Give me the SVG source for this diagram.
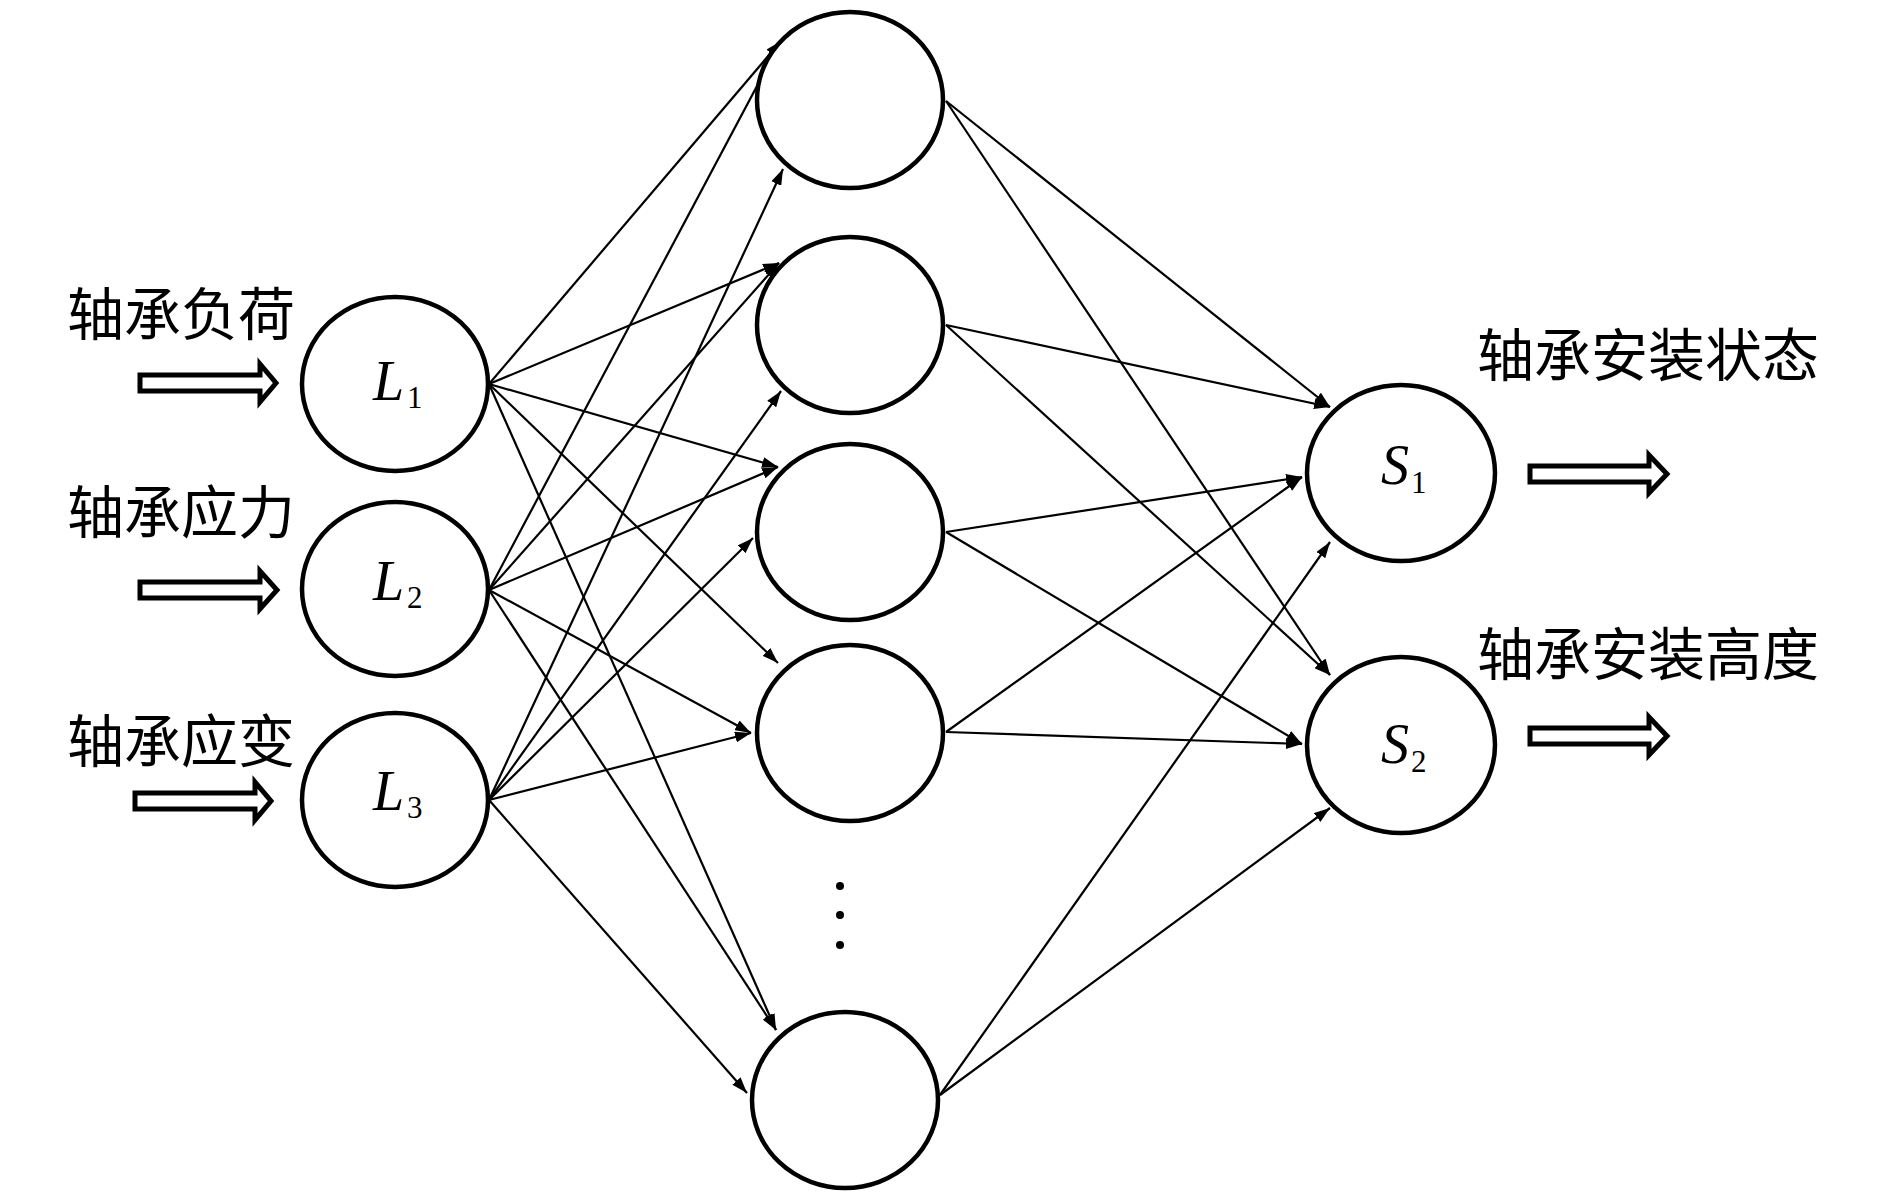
<svg xmlns="http://www.w3.org/2000/svg" width="1890" height="1200" viewBox="0 0 1890 1200">
<defs>
<style>
.node{fill:#fff;stroke:#000;stroke-width:4.5}
.edge{stroke:#000;stroke-width:2.2;fill:none;marker-end:url(#ah)}
.big{fill:#fff;stroke:#000;stroke-width:5;stroke-linejoin:miter}
.cjk{font-family:"Noto Sans CJK SC","Noto Sans CJK TC",sans-serif;font-size:57px;fill:#000}
.var{font-family:"Liberation Serif","Times New Roman",serif;font-style:italic;font-size:56px;fill:#000}
.sub{font-family:"Liberation Serif","Times New Roman",serif;font-style:normal;font-size:31px}
</style>
<marker id="ah" markerUnits="userSpaceOnUse" markerWidth="16" markerHeight="11" refX="16" refY="5.5" orient="auto">
<path d="M0,0 L16,5.5 L0,11 z" fill="#000"/>
</marker>
</defs>
<rect width="1890" height="1200" fill="#fff"/>

<g id="connectors">
<line class="edge" x1="489" y1="384" x2="781" y2="41"/>
<line class="edge" x1="489" y1="590" x2="781" y2="41"/>
<line class="edge" x1="489" y1="800" x2="783" y2="169"/>
<line class="edge" x1="489" y1="384" x2="779" y2="263"/>
<line class="edge" x1="489" y1="590" x2="779" y2="263"/>
<line class="edge" x1="489" y1="800" x2="781" y2="391"/>
<line class="edge" x1="489" y1="384" x2="778" y2="467"/>
<line class="edge" x1="489" y1="590" x2="778" y2="467"/>
<line class="edge" x1="489" y1="800" x2="753" y2="538"/>
<line class="edge" x1="489" y1="384" x2="778" y2="663"/>
<line class="edge" x1="489" y1="590" x2="751" y2="733"/>
<line class="edge" x1="489" y1="800" x2="751" y2="733"/>
<line class="edge" x1="489" y1="384" x2="776" y2="1030"/>
<line class="edge" x1="489" y1="590" x2="776" y2="1030"/>
<line class="edge" x1="489" y1="800" x2="747" y2="1093"/>

<line class="edge" x1="946" y1="101" x2="1330" y2="407"/>
<line class="edge" x1="946" y1="325" x2="1330" y2="407"/>
<line class="edge" x1="946" y1="532" x2="1302" y2="477"/>
<line class="edge" x1="946" y1="732" x2="1302" y2="477"/>
<line class="edge" x1="940" y1="1095" x2="1330" y2="542"/>
<line class="edge" x1="946" y1="101" x2="1330" y2="675"/>
<line class="edge" x1="946" y1="325" x2="1330" y2="675"/>
<line class="edge" x1="946" y1="532" x2="1302" y2="744"/>
<line class="edge" x1="946" y1="732" x2="1302" y2="744"/>
<line class="edge" x1="940" y1="1095" x2="1330" y2="808"/>
</g>

<g id="input-arrows">
<polygon class="big" points="140,375 260,375 260,364 276,383 260,402 260,391 140,391"/>
<polygon class="big" points="140,582 260,582 260,571 277,590 260,609 260,598 140,598"/>
<polygon class="big" points="135,793 255,793 255,782 271,801 255,820 255,809 135,809"/>
</g>

<g id="output-arrows">
<polygon class="big" points="1530,466 1649,466 1649,455 1667,474 1649,493 1649,482 1530,482"/>
<polygon class="big" points="1530,728 1649,728 1649,717 1667,736 1649,755 1649,744 1530,744"/>
</g>

<g id="labels">
<text class="cjk" x="67" y="335">轴承负荷</text>
<text class="cjk" x="67" y="533">轴承应力</text>
<text class="cjk" x="67" y="762">轴承应变</text>
<text class="cjk" x="1477" y="376">轴承安装状态</text>
<text class="cjk" x="1477" y="675">轴承安装高度</text>
</g>

<g id="L1"><ellipse class="node" cx="395" cy="384" rx="93" ry="87"/>
<text class="var" x="373" y="400">L<tspan class="sub" x="407" y="408">1</tspan></text></g>
<g id="L2"><ellipse class="node" cx="395" cy="589" rx="93" ry="87"/>
<text class="var" x="373" y="600">L<tspan class="sub" x="407" y="608">2</tspan></text></g>
<g id="L3"><ellipse class="node" cx="395" cy="800" rx="93" ry="87"/>
<text class="var" x="373" y="810">L<tspan class="sub" x="407" y="818">3</tspan></text></g>

<g id="H1"><ellipse class="node" cx="850" cy="100" rx="93" ry="88"/></g>
<g id="H2"><ellipse class="node" cx="850" cy="325" rx="93" ry="88"/></g>
<g id="H3"><ellipse class="node" cx="850" cy="532" rx="93" ry="88"/></g>
<g id="H4"><ellipse class="node" cx="850" cy="733" rx="93" ry="88"/></g>
<g id="H5"><ellipse class="node" cx="845" cy="1100" rx="93" ry="88"/></g>

<g id="ellipsis">
<circle cx="840" cy="886" r="4" fill="#000"/>
<circle cx="840" cy="915" r="4" fill="#000"/>
<circle cx="840" cy="945" r="4" fill="#000"/>
</g>

<g id="S1"><ellipse class="node" cx="1401" cy="473" rx="94" ry="88"/>
<text class="var" x="1381" y="484">S<tspan class="sub" x="1411" y="493">1</tspan></text></g>
<g id="S2"><ellipse class="node" cx="1401" cy="745" rx="94" ry="88"/>
<text class="var" x="1381" y="763">S<tspan class="sub" x="1411" y="772">2</tspan></text></g>
</svg>
